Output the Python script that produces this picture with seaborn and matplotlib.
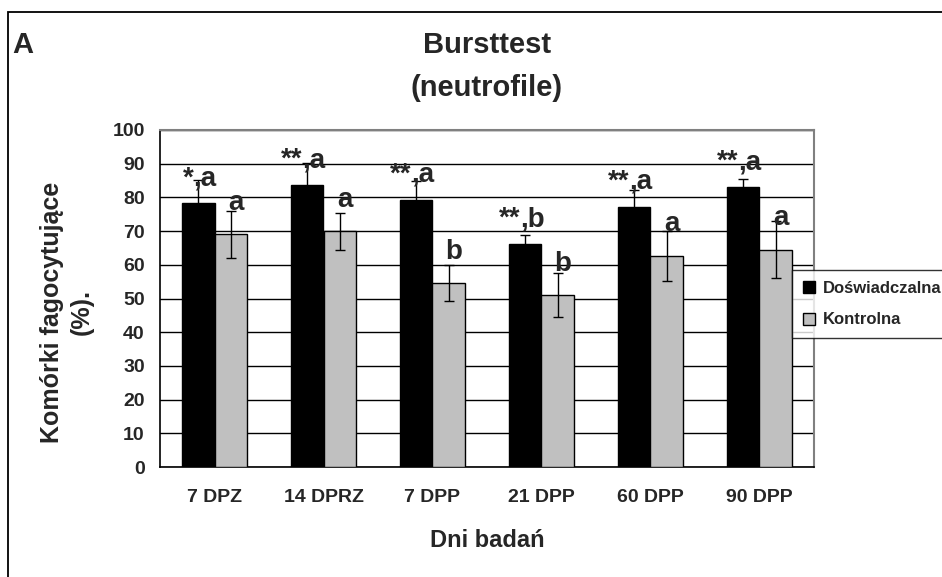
import matplotlib
matplotlib.use("Agg")
import matplotlib.pyplot as plt
from matplotlib.patches import Rectangle
import pandas as pd
import seaborn as sns

# --- Data ---
dni = ["7 DPZ", "14 DPRZ", "7 DPP", "21 DPP", "60 DPP", "90 DPP"]
doswiadczalna = [78.2, 83.7, 79.3, 66.2, 77.2, 83.1]
doswiadczalna_err = [7.0, 6.6, 5.5, 2.7, 5.0, 2.4]
kontrolna = [69.0, 69.9, 54.5, 51.0, 62.6, 64.5]
kontrolna_err = [7.0, 5.4, 5.3, 6.5, 7.5, 8.5]
gwiazdki = ["*", "**", "**", "**", "**", "**"]
litery_dosw = ["a", "a", "a", "b", "a", "a"]
litery_kontr = ["a", "a", "b", "b", "a", "a"]
grupy = ["Doświadczalna", "Kontrolna"]

df = pd.DataFrame({
    "dzien": dni * 2,
    "wartosc": doswiadczalna + kontrolna,
    "grupa": [grupy[0]] * len(dni) + [grupy[1]] * len(dni),
})

sns.set_style("white")
plt.rcParams["font.family"] = ["Liberation Sans", "DejaVu Sans"]
plt.rcParams["font.weight"] = "bold"

fig = plt.figure(figsize=(9.42, 5.77), dpi=100)
ax = fig.add_axes([160 / 942, 1 - 467 / 577, (814 - 160) / 942, (467 - 130) / 577])

# outer frame of the figure
fig.patches.append(Rectangle((8 / 942, -0.1), 1.2, 1 - 12 / 577 + 0.1, transform=fig.transFigure,
                             fill=False, edgecolor="black", linewidth=1.3))

sns.barplot(data=df, x="dzien", y="wartosc", hue="grupa", order=dni, hue_order=grupy,
            palette=["black", "#c0c0c0"], edgecolor="black", linewidth=1.0,
            width=0.59, errorbar=None, ax=ax, zorder=3)

# error bars and significance letters
for k, (container, errs) in enumerate(zip(ax.containers, [doswiadczalna_err, kontrolna_err])):
    for i, (bar, e) in enumerate(zip(container, errs)):
        xc = bar.get_x() + bar.get_width() / 2
        h = bar.get_height()
        ax.errorbar(xc, h, yerr=e, color="black", capsize=3.6, elinewidth=1.0,
                    capthick=1.0, zorder=4)
        if k == 0:
            ax.text(xc - 0.045, h + 5.3, gwiazdki[i], ha="right", va="baseline",
                    fontsize=20, fontweight="bold", zorder=5)
            ax.text(xc - 0.045, h + 5.3, "," + litery_dosw[i], ha="left", va="baseline",
                    fontsize=20, fontweight="bold", zorder=5)
        else:
            ax.text(xc + 0.05, h + 7.3, litery_kontr[i], ha="center", va="baseline",
                    fontsize=20, fontweight="bold", zorder=5)

ax.set_ylim(0, 100)
ax.set_xlim(-0.5, len(dni) - 0.5)
ax.set_yticks(range(0, 101, 10))
ax.yaxis.grid(True, color="black", linewidth=1.0, zorder=0)
ax.set_axisbelow(True)

ax.set_xticks(range(len(dni)))
ax.set_xticklabels(dni, fontsize=14, fontweight="bold")
ax.set_xticks([i - 0.5 for i in range(len(dni) + 1)], minor=True)
ax.tick_params(axis="x", which="major", length=0, pad=16)
ax.tick_params(axis="x", which="minor", length=5, width=1, color="black", direction="out")
ax.tick_params(axis="y", length=5, width=1, color="black", direction="out", pad=6, labelsize=14)
for lab in ax.get_yticklabels():
    lab.set_fontweight("bold")

for side in ["left", "bottom"]:
    ax.spines[side].set_color("black")
    ax.spines[side].set_linewidth(1.2)
for side in ["top", "right"]:
    ax.spines[side].set_color("#808080")
    ax.spines[side].set_linewidth(1.5)

ax.set_xlabel("Dni badań", fontsize=17, fontweight="bold")
ax.xaxis.set_label_coords(0.5, (467 - 529) / 337)
ax.set_ylabel("Komórki fagocytujące\n(%).", fontsize=18, fontweight="bold", linespacing=1.3)
ax.yaxis.set_label_coords((94 - 160) / 654, (467 - 312) / 337)

fig.text(487 / 942, 1 - 45 / 577, "Bursttest", ha="center", va="center",
         fontsize=21, fontweight="bold")
fig.text(487 / 942, 1 - 88 / 577, "(neutrofile)", ha="center", va="center",
         fontsize=21, fontweight="bold")
fig.text(12 / 942, 1 - 45 / 577, "A", ha="left", va="center", fontsize=21, fontweight="bold")

leg = ax.legend(loc="upper left", bbox_to_anchor=(792 / 942, 1 - 270 / 577),
                bbox_transform=fig.transFigure, frameon=True, fancybox=False,
                fontsize=12, handlelength=0.7, handleheight=0.7, handletextpad=0.5,
                labelspacing=1.0, borderpad=0.65, borderaxespad=0, title=None)
leg.get_frame().set_edgecolor("black")
leg.get_frame().set_linewidth(1.0)
for t in leg.get_texts():
    t.set_fontweight("bold")

fig.savefig("out.png", dpi=100)
